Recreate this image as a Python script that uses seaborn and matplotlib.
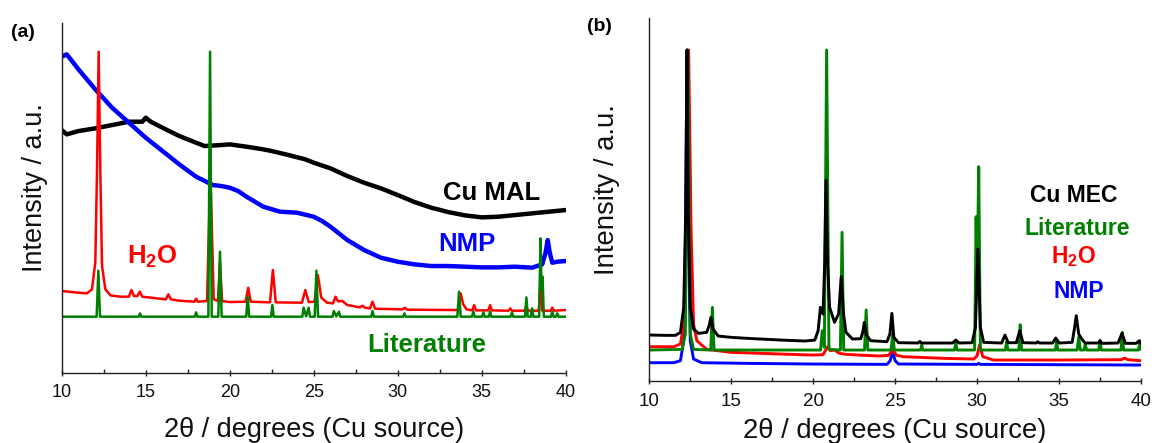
import matplotlib
matplotlib.use("Agg")
import matplotlib.pyplot as plt
from matplotlib.ticker import MultipleLocator
import seaborn as sns
import pandas as pd

# ---------------- data ----------------
x_ticks = [10, 15, 20, 25, 30, 35, 40]
tick_labels = ["10", "15", "20", "25", "30", "35", "40"]

# Panel (a): Cu MAL (amorphous) and NMP
cu_mal_a = [(10, 72.8), (10.3, 71.5), (11, 72.5), (12, 73.3), (13, 74.3), (14, 75.3),
            (14.8, 75.3), (15.0, 76.5), (15.3, 75.3), (16, 73.5), (17, 71.0), (18, 69.0),
            (18.5, 68.0), (19.5, 68.3), (20, 68.5), (21, 67.8), (22, 67.0), (22.5, 66.5),
            (23.5, 65.3), (24.5, 64.0), (25, 63.0), (26, 61.3), (27, 59.0), (28, 57.0),
            (29, 55.3), (30, 53.3), (31, 51.2), (32, 49.5), (33, 48.2), (34, 47.2),
            (35, 46.6), (36, 46.8), (37, 47.3), (38, 47.8), (39, 48.3), (40, 48.8)]

nmp_a = [(10, 94.8), (10.3, 95.5), (11, 91.0), (12, 85.0), (13, 79.5), (14, 75.0),
         (15, 70.5), (16, 66.5), (17, 62.5), (18, 58.8), (19, 56.3), (19.5, 56.0),
         (20, 55.5), (20.5, 54.5), (21, 52.8), (22, 49.8), (23, 48.3), (24, 48.0),
         (25, 46.8), (25.5, 45.5), (26, 43.8), (27, 39.8), (28, 36.8), (29, 34.5),
         (30, 33.3), (31, 32.5), (32, 32.0), (33, 32.0), (34, 31.8), (35, 31.6),
         (36, 31.6), (37, 31.8), (38, 31.5), (38.6, 32.5), (38.8, 36.0), (38.93, 39.8),
         (39.05, 36.0), (39.2, 33.0), (39.5, 33.3), (40, 33.5)]

h2o_a = [(10, 24.5), (11, 24.0), (11.5, 23.8), (11.8, 25.0), (12.0, 33), (12.1, 60),
         (12.2, 96.3), (12.3, 60), (12.4, 32), (12.6, 25.0), (12.9, 23.2), (13.5, 22.8),
         (14.0, 22.8), (14.15, 24.8), (14.3, 23.0), (14.5, 23.0), (14.65, 24.3), (14.8, 22.8),
         (15.5, 22.4), (16.2, 22.0), (16.35, 23.5), (16.5, 22.0), (17.0, 21.6), (17.9, 21.3),
         (18.0, 22.2), (18.1, 21.3), (18.65, 21.5), (18.85, 60), (19.05, 22.0), (19.3, 21.5),
         (19.42, 33), (19.55, 21.5), (20.0, 21.2), (20.95, 21.3), (21.1, 25.5), (21.25, 21.3),
         (22.4, 21.1), (22.57, 30.8), (22.74, 21.1), (24.3, 21.0), (24.5, 24.8), (24.7, 21.2),
         (25.05, 21.3), (25.25, 29.3), (25.45, 22.5), (25.8, 21.0), (26.15, 20.8), (26.3, 22.8),
         (26.45, 21.4), (26.7, 21.5), (27.0, 20.3), (27.75, 19.6), (27.9, 20.1), (28.05, 19.5),
         (28.35, 19.3), (28.5, 21.3), (28.65, 19.2), (30.3, 19.0), (30.43, 19.5), (30.56, 18.9),
         (33.6, 18.8), (33.75, 23.8), (33.9, 20.5), (34.1, 19.0), (34.45, 18.7), (34.55, 20.3),
         (34.65, 18.7), (35.4, 18.7), (35.5, 20.3), (35.6, 18.7), (36.6, 18.6), (36.7, 19.3),
         (36.8, 18.6), (37.55, 18.6), (37.65, 20.0), (37.75, 18.6), (38.4, 18.6), (38.5, 28.0),
         (38.6, 18.6), (39.1, 18.6), (39.2, 19.5), (39.3, 18.6), (40, 18.8)]

lit_a = [(10, 16.8), (12.08, 16.8), (12.18, 30.6), (12.28, 16.8), (14.58, 16.8), (14.66, 17.8),
         (14.74, 16.8), (17.92, 16.8), (18.0, 18.1), (18.08, 16.8), (18.73, 16.8), (18.83, 96.3),
         (18.93, 16.8), (19.32, 16.8), (19.42, 36.3), (19.52, 16.8), (20.98, 16.8), (21.07, 22.8),
         (21.16, 16.8), (22.46, 16.8), (22.54, 20.3), (22.62, 16.8), (24.32, 16.8), (24.4, 19.5),
         (24.55, 16.9), (24.7, 19.5), (24.78, 16.8), (25.06, 16.8), (25.16, 30.6), (25.26, 16.8),
         (26.12, 16.8), (26.2, 18.5), (26.35, 16.9), (26.5, 18.3), (26.58, 16.8), (28.42, 16.8),
         (28.5, 18.5), (28.58, 16.8), (30.32, 16.8), (30.4, 17.8), (30.48, 16.8), (33.55, 16.8),
         (33.65, 24.3), (33.75, 16.8), (34.42, 16.8), (34.5, 18.3), (34.58, 16.8), (35.02, 16.8),
         (35.1, 18.1), (35.18, 16.8), (35.42, 16.8), (35.5, 18.3), (35.58, 16.8), (36.72, 16.8),
         (36.8, 18.1), (36.88, 16.8), (37.58, 16.8), (37.66, 22.6), (37.74, 16.8), (37.92, 16.8),
         (38.0, 19.3), (38.08, 16.8), (38.42, 16.8), (38.5, 40.3), (38.56, 25.0), (38.62, 28.8),
         (38.7, 16.8), (39.12, 16.8), (39.2, 18.3), (39.28, 16.8), (39.42, 16.8), (39.5, 17.8),
         (39.58, 16.8), (40, 16.8)]

# Panel (b): Cu MEC
nmp_b = [(10, 5.4), (11.5, 5.4), (11.9, 6.0), (12.1, 12), (12.2, 40), (12.3, 99.2), (12.4, 40),
         (12.5, 12), (12.7, 6.5), (13.2, 5.4), (16, 5.2), (20, 5.0), (24.5, 4.9), (24.7, 6.0),
         (24.85, 8.7), (25.0, 6.0), (25.2, 5.0), (30, 4.9), (30.1, 5.2), (30.2, 4.9), (35, 4.8),
         (40, 4.7)]

h2o_b = [(10, 10.2), (11.5, 10.2), (11.9, 11.0), (12.1, 17), (12.25, 45), (12.4, 99.2),
         (12.55, 45), (12.7, 17), (12.9, 12.0), (13.5, 9.4), (15, 8.5), (18, 8.0), (20, 7.7),
         (20.6, 7.8), (20.88, 10.2), (21.05, 9.0), (21.3, 9.2), (21.6, 8.2), (22, 7.9), (24, 7.4),
         (24.6, 7.6), (24.85, 9.2), (25.1, 7.6), (25.5, 7.2), (28, 6.7), (29.8, 6.5), (30.0, 7.5),
         (30.15, 10.7), (30.35, 7.2), (31, 6.2), (35, 6.2), (38.8, 6.3), (39.0, 6.8), (39.2, 6.3),
         (40, 6.0)]

lit_b = [(10, 9.2), (12.0, 9.4), (12.2, 14), (12.35, 99.2), (12.5, 14), (12.7, 9.4), (13.75, 9.2),
         (13.85, 22.0), (13.95, 9.2), (20.45, 9.2), (20.55, 15.0), (20.68, 10.0), (20.82, 99.2),
         (20.96, 9.4), (21.66, 9.2), (21.76, 44.5), (21.86, 9.2), (23.13, 9.2), (23.23, 21.2),
         (23.33, 9.2), (24.75, 9.2), (24.85, 14.0), (24.95, 9.2), (26.55, 9.2), (26.62, 10.7),
         (26.69, 9.2), (28.62, 9.2), (28.7, 11.4), (28.78, 9.2), (29.85, 9.2), (29.94, 49.2),
         (30.0, 30.0), (30.1, 64.2), (30.2, 9.2), (31.72, 9.2), (31.8, 11.7), (31.88, 9.2),
         (32.55, 9.2), (32.63, 16.8), (32.71, 9.2), (34.78, 9.2), (34.85, 11.9), (34.92, 9.2),
         (36.1, 9.2), (36.2, 13.0), (36.3, 9.2), (36.52, 9.2), (36.6, 11.0), (36.68, 9.2),
         (37.42, 9.2), (37.5, 12.0), (37.58, 9.2), (38.78, 9.2), (38.86, 14.5), (38.94, 9.2),
         (39.85, 9.2), (39.92, 11.2), (40, 9.4)]

cu_mec_b = [(10, 13.7), (11.0, 13.6), (11.6, 13.6), (11.9, 14.5), (12.1, 22), (12.22, 50),
            (12.3, 99.2), (12.38, 50), (12.5, 22), (12.7, 15.5), (13.0, 14.2), (13.5, 14.5),
            (13.65, 16.5), (13.76, 19.0), (13.88, 15.5), (14.2, 13.4), (15, 13.0), (16, 12.7),
            (18, 12.2), (19.5, 11.9), (20.1, 12.2), (20.3, 15.0), (20.44, 22.0), (20.6, 20.0),
            (20.7, 35), (20.78, 60.2), (20.88, 35), (21.0, 22.0), (21.3, 17.5), (21.55, 20.0),
            (21.71, 31.2), (21.85, 20.0), (22.0, 14.5), (22.4, 12.5), (22.9, 12.6), (23.02, 14.5),
            (23.12, 17.5), (23.24, 13.8), (23.5, 12.0), (24.5, 11.7), (24.68, 14.0), (24.8, 20.2),
            (24.92, 13.0), (25.2, 11.4), (26.4, 11.3), (26.5, 11.8), (26.6, 11.3), (28.5, 11.3),
            (28.7, 12.2), (28.9, 11.3), (29.7, 11.4), (29.9, 16.0), (30.05, 39.5), (30.2, 16.0),
            (30.4, 11.5), (31.5, 11.3), (31.7, 13.7), (31.9, 11.4), (32.4, 11.4), (32.6, 15.0),
            (32.8, 11.4), (33.6, 11.3), (33.7, 11.7), (33.8, 11.3), (34.6, 11.3), (34.8, 12.8),
            (35.0, 11.3), (35.8, 11.5), (35.95, 16.0), (36.05, 19.5), (36.2, 14.0), (36.4, 12.4),
            (36.6, 11.3), (37.4, 11.3), (37.5, 12.0), (37.6, 11.2), (38.6, 11.3), (38.84, 14.2),
            (39.05, 11.2), (39.7, 11.2), (39.9, 12.0), (40, 11.2)]

BLACK, BLUE, RED, GREEN = "#000000", "#0000ff", "#ff0000", "#008000"

# ---------------- style ----------------
sns.set_theme(style="white")
plt.rcParams["font.family"] = ["Liberation Sans", "DejaVu Sans"]
plt.rcParams["mathtext.fontset"] = "custom"
plt.rcParams["mathtext.rm"] = "Liberation Sans"
plt.rcParams["mathtext.bf"] = "Liberation Sans:bold"

W, H = 1155, 443
fig = plt.figure(figsize=(W / 100, H / 100), dpi=100)
axa = fig.add_axes([61.7 / W, (H - 372.7) / H, 504 / W, 350 / H])
axb = fig.add_axes([649.3 / W, (H - 380.7) / H, 491.7 / W, 362.4 / H])


def draw(ax, series, color, lw):
    df = pd.DataFrame(series, columns=["x", "y"])
    sns.lineplot(data=df, x="x", y="y", ax=ax, color=color, linewidth=lw,
                 estimator=None, sort=False, solid_joinstyle="round")


draw(axa, cu_mal_a, BLACK, 3.2)
draw(axa, nmp_a, BLUE, 3.2)
draw(axa, h2o_a, RED, 1.8)
draw(axa, lit_a, GREEN, 1.8)

draw(axb, nmp_b, BLUE, 2.1)
draw(axb, h2o_b, RED, 2.1)
draw(axb, lit_b, GREEN, 2.1)
draw(axb, cu_mec_b, BLACK, 2.1)

for ax, top, tfs, lfs, pad in [(axa, 105, 13, 19.5, 5.5), (axb, 108.7, 13.5, 19.8, 6.5)]:
    ax.set_xlim(10, 40)
    ax.set_ylim(0, top)
    ax.set_xticks(x_ticks)
    ax.set_xticklabels(tick_labels)
    ax.xaxis.set_minor_locator(MultipleLocator(2.5))
    ax.set_yticks([])
    for s in ["top", "right"]:
        ax.spines[s].set_visible(False)
    for s in ["left", "bottom"]:
        ax.spines[s].set_color("#222222")
        ax.spines[s].set_linewidth(1.0)
    ax.tick_params(axis="x", which="major", bottom=True, direction="inout", length=5,
                   width=1, color="#222222", labelsize=tfs, pad=pad, labelcolor="#111111")
    ax.tick_params(axis="x", which="minor", bottom=True, direction="in", length=3,
                   width=1, color="#222222")
    ax.set_xlabel("2θ / degrees (Cu source)", fontsize=lfs, color="#111111", va="center")
    ax.set_ylabel("Intensity / a.u.", fontsize=lfs, color="#111111", va="center", ha="center")

axa.xaxis.set_label_coords(0.5, (372.7 - 430) / 350)
axa.yaxis.set_label_coords((35 - 61.7) / 504, (372.7 - 188) / 350)
axb.xaxis.set_label_coords(0.5, (380.7 - 431) / 362.4)
axb.yaxis.set_label_coords((607.5 - 649.3) / 491.7, (380.7 - 190) / 362.4)


def ftext(x, y, s, color, size, ha="center"):
    fig.text(x / W, 1 - y / H, s, color=color, fontsize=size, fontweight="bold",
             ha=ha, va="baseline")


# panel letters
ftext(23, 37, "(a)", BLACK, 14)
ftext(599, 31, "(b)", BLACK, 14)

# panel (a) annotations
ftext(491.7, 200, "Cu MAL", BLACK, 18.5)
ftext(466.7, 250.7, "NMP", BLUE, 18.5)
ftext(152.4, 263.3, r"H$_\mathbf{2}$O", RED, 18.5)
ftext(426.7, 351.7, "Literature", GREEN, 18.5)

# panel (b) annotations
ftext(1073.6, 201.7, "Cu MEC", BLACK, 16.5)
ftext(1077.7, 235, "Literature", GREEN, 16.5)
ftext(1073.5, 263.3, r"H$_\mathbf{2}$O", RED, 16.5)
ftext(1079, 298.3, "NMP", BLUE, 16.5)

fig.savefig("out.png", dpi=100)
